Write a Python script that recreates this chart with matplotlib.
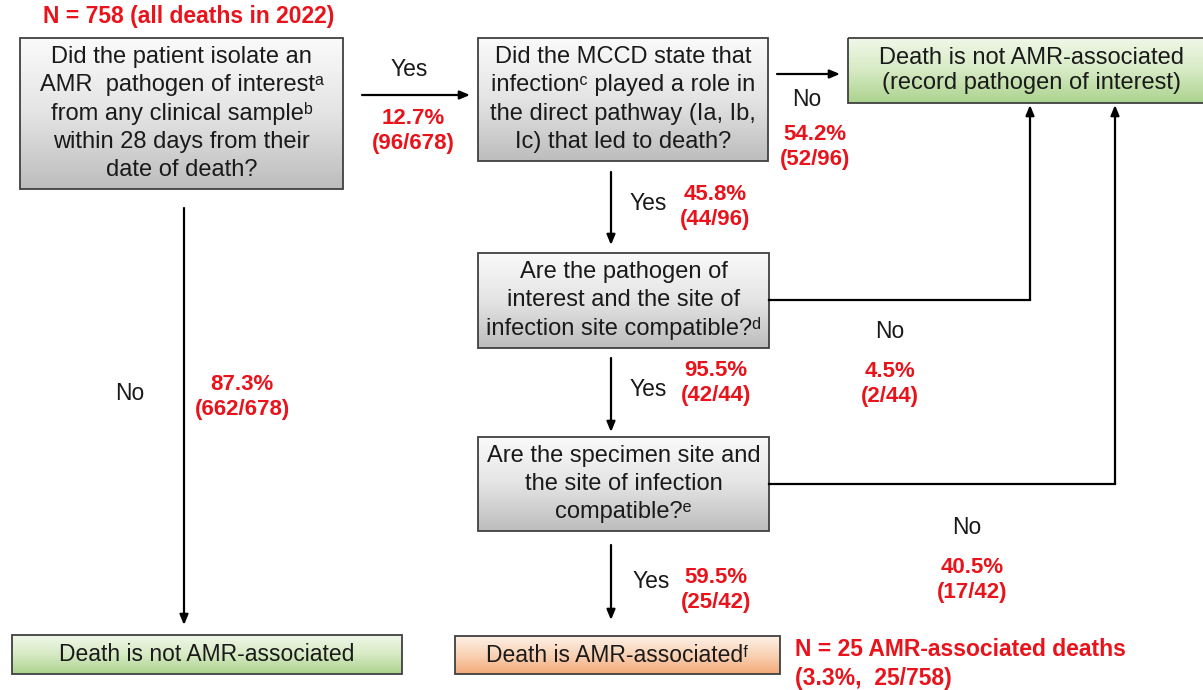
import numpy as np
import matplotlib.pyplot as plt
from matplotlib.patches import Rectangle
from matplotlib.colors import LinearSegmentedColormap

plt.rcParams['font.family'] = ['Liberation Sans', 'DejaVu Sans']

# texts of the boxes (superscript letters as unicode characters)
q1 = "Did the patient isolate an\nAMR  pathogen of interest\u1d43\nfrom any clinical sample\u1d47\nwithin 28 days from their\ndate of death?"
q2 = "Did the MCCD state that\ninfection\u1d9c played a role in\nthe direct pathway (Ia, Ib,\nIc) that led to death?"
q3 = "Are the pathogen of\ninterest and the site of\ninfection site compatible?\u1d48"
q4 = "Are the specimen site and\nthe site of infection\ncompatible?\u1d49"
out_not_rec = "Death is not AMR-associated\n(record pathogen of interest)"
out_not = "Death is not AMR-associated"
out_amr = "Death is AMR-associated\u1da0"

# branch percentages
pct_labels = ["12.7%\n(96/678)", "54.2%\n(52/96)", "45.8%\n(44/96)", "95.5%\n(42/44)",
              "4.5%\n(2/44)", "59.5%\n(25/42)", "40.5%\n(17/42)", "87.3%\n(662/678)"]
total_label = "N = 758 (all deaths in 2022)"
final_label = "N = 25 AMR-associated deaths\n(3.3%,  25/758)"

RED = '#e8131b'

fig = plt.figure(figsize=(12.03, 6.90), dpi=100)
ax = fig.add_axes([0, 0, 1, 1])
ax.set_xlim(0, 1203)
ax.set_ylim(690, 0)
ax.axis('off')

gray = LinearSegmentedColormap.from_list('g', ['#fafafa', '#e4e4e4', '#bdbdbd'])
green = LinearSegmentedColormap.from_list('gr', ['#f0f7e8', '#d6eac4', '#acd38e'])
orange = LinearSegmentedColormap.from_list('o', ['#fdf0e6', '#f9d2b5', '#f3a978'])


def box(x0, y0, x1, y1, cmap, text, fs=17, ls=1.36):
    grad = np.linspace(0, 1, 100).reshape(-1, 1)
    im = ax.imshow(grad, cmap=cmap, extent=(x0, x1, y1, y0), aspect='auto', zorder=1)
    r = Rectangle((x0, y0), x1 - x0, y1 - y0, fill=False, ec='#404040', lw=1.3, zorder=2)
    ax.add_patch(r)
    im.set_clip_path(r)
    ax.text((x0 + x1) / 2, (y0 + y1) / 2, text, ha='center', va='center',
            fontsize=fs, color='#1a1a1a', linespacing=ls, zorder=3)


def arrow(x0, y0, x1, y1):
    ax.annotate('', xy=(x1, y1), xytext=(x0, y0),
                arrowprops=dict(arrowstyle='-|>,head_length=0.6,head_width=0.25',
                                color='black', lw=1.6, shrinkA=0, shrinkB=0))


def red(x, y, s, ha='center', fs=16):
    ax.text(x, y, s, ha=ha, va='center', fontsize=fs, color=RED,
            fontweight='bold', linespacing=1.3)


def label(x, y, s):
    ax.text(x, y, s, ha='center', va='center', fontsize=16.5, color='#1a1a1a')


box(20, 38, 343, 189, gray, q1)
box(478, 38, 768, 161, gray, q2)
box(848, 38, 1215, 103, green, out_not_rec, ls=1.2)
box(478, 253, 769, 348, gray, q3)
box(478, 437, 769, 531, gray, q4)
box(12, 635, 402, 674, green, out_not, fs=16.5)
box(455, 636, 780, 674, orange, out_amr, fs=16.5)

red(189, 17, total_label, fs=16.5)
red(795, 650, final_label.split('\n')[0], ha='left', fs=16.5)
red(795, 678, final_label.split('\n')[1], ha='left', fs=16.5)

# arrows
arrow(362, 95, 470, 95)
arrow(777, 74, 840, 74)
arrow(611, 172, 611, 245)
arrow(611, 358, 611, 432)
arrow(611, 545, 611, 620)
arrow(184, 208, 184, 625)
ax.plot([769, 1030], [300, 300], color='black', lw=1.6)
arrow(1030, 300, 1030, 105)
ax.plot([769, 1115], [484, 484], color='black', lw=1.6)
arrow(1115, 484, 1115, 105)

# yes / no labels
label(409, 70, "Yes")
label(807, 100, "No")
label(648, 204, "Yes")
label(648, 389, "Yes")
label(651, 582, "Yes")
label(890, 332, "No")
label(967, 527, "No")
label(130, 393, "No")

pct_pos = [(413, 131), (815, 147), (715, 207), (716, 383), (890, 384),
           (716, 590), (972, 580), (242, 397)]
for (x, y), s in zip(pct_pos, pct_labels):
    red(x, y, s)

fig.savefig('out.png', dpi=100)
